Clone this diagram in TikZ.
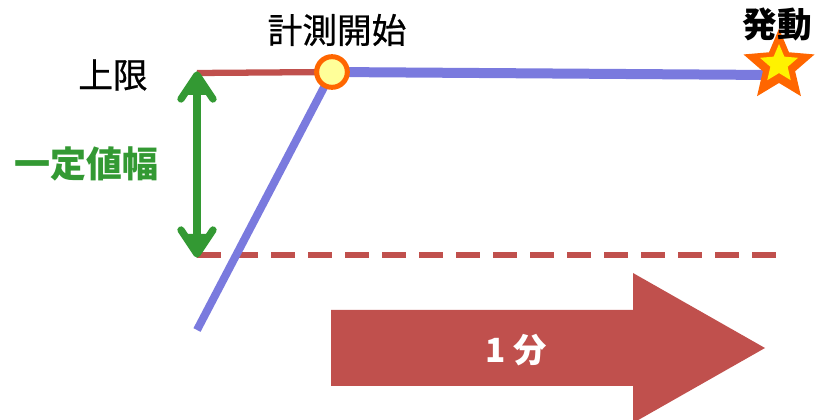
\documentclass[tikz,border=0pt]{standalone}
\usepackage{fontspec}
\setmainfont{Noto Sans CJK JP}
\usetikzlibrary{shapes.geometric}
\definecolor{lred}{HTML}{C0504D}
\definecolor{lblue}{HTML}{7A7ADE}
\definecolor{lgreen}{HTML}{339933}
\definecolor{lorange}{HTML}{FF6600}
\definecolor{lyellow}{HTML}{FFFF99}
\tikzset{
  lbl/.style={inner sep=0pt, font=\fontsize{26pt}{28pt}\selectfont\addfontfeature{FakeBold=0.6}},
  redline/.style={lred, line width=4.7pt},
  blueline/.style={lblue, line width=6.5pt},
  greenarrow/.style={lgreen, line width=5.5pt, line cap=round, line join=round},
}
\begin{document}
\begin{tikzpicture}[x=0.75pt, y=-0.75pt]
\useasboundingbox (0,0) rectangle (818,420);
% coordinates
\coordinate (lowL) at (197,255);
\coordinate (lowR) at (778,255);
\coordinate (upL) at (197,73);
\coordinate (start) at (332,72);
\coordinate (blueB) at (197,330);
\coordinate (fire) at (772,75);
% big arrow
\fill[lred] (331,310) -- (633,310) -- (633,273) -- (765,348) -- (633,423) -- (633,386) -- (331,386) -- cycle;
\node[inner sep=0pt, text=white, font=\bfseries\fontsize{25pt}{27pt}\selectfont] (onemin) at (516,350) {1 分};
% limit lines
\draw[redline] (upL) -- (start);
\draw[redline, dash pattern=on 18pt off 9.75pt] (lowL) -- (lowR);
% blue path
\draw[blueline, line width=6pt] (blueB) -- (start);
\draw[blueline, line width=7.5pt] (start) -- (fire);
% green double arrow
\draw[greenarrow] (197,78) -- (197,250);
\draw[greenarrow] (181,99) -- (197,75) -- (213,99);
\draw[greenarrow] (181,230) -- (197,254) -- (213,230);
\fill[lgreen] (197,75) -- (186,95) -- (208,95) -- cycle;
\fill[lgreen] (197,254) -- (186,234) -- (208,234) -- cycle;
% start marker
\node[circle, draw=lorange, line width=3.75pt, fill=lyellow, minimum size=23pt, inner sep=0pt] (mark) at (start) {};
% star
\node[star, star points=5, star point ratio=2.2, fill=lorange, minimum size=56pt, inner sep=0pt] (bigstar) at (779,66) {};
\node[star, star points=5, star point ratio=2.2, fill=yellow, minimum size=30pt, inner sep=0pt] (smallstar) at (779,64) {};
% labels
\node[lbl] (kaishi) at (337,30) {計測開始};
\node[lbl] (jogen) at (113,75) {上限};
\node[inner sep=0pt, font=\bfseries\fontsize{26pt}{28pt}\selectfont] (hatsudo) at (777,24) {発動};
\node[inner sep=0pt, text=lgreen, font=\bfseries\fontsize{27pt}{29pt}\selectfont] (haba) at (87,164) {一定値幅};
\end{tikzpicture}
\end{document}
